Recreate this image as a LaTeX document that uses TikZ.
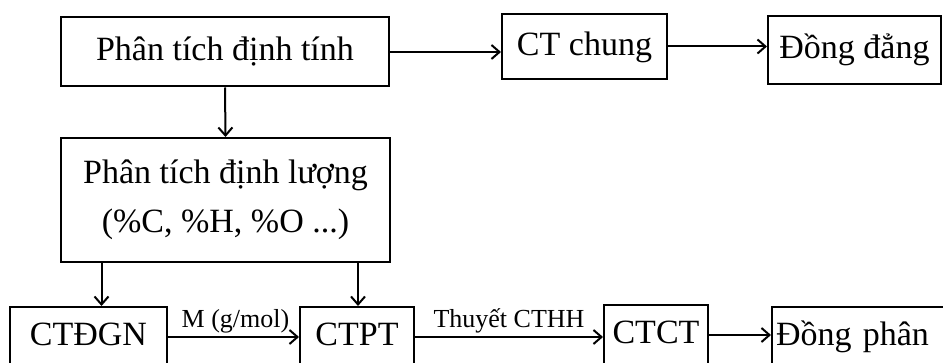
\documentclass[tikz,border=0pt]{standalone}
\usepackage{fontspec}
\setmainfont{Liberation Serif}
\usetikzlibrary{arrows.meta}
\begin{document}
\begin{tikzpicture}[x=1pt,y=-1pt,
  box/.style={draw, line width=2pt, inner sep=0pt, font=\fontsize{34}{41}\selectfont},
  sbox/.style={box, text height=24pt, text depth=6pt},
  conn/.style={line width=2pt, -{Straight Barb[length=8pt,width=14pt,line width=2pt]}},
  lbl/.style={font=\fontsize{26}{30}\selectfont, inner sep=1pt}]
\useasboundingbox (0,0) rectangle (943,363);
\clip (0,0) rectangle (943,363);
\node[sbox, minimum width=328pt, minimum height=69pt] (b1) at (225,52) {Phân tích định tính};
\node[sbox, minimum width=165pt, minimum height=65pt] (ct) at (584.5,46.5) {CT chung};
\node[sbox, minimum width=173pt, minimum height=68pt] (dd) at (854.5,50) {Đồng đẳng};
\node[box, minimum width=329pt, minimum height=124pt, align=center] (b2) at (225.5,200) {Phân tích định lượng\\[8pt](\%C, \%H, \%O ...)};
\node[sbox, minimum width=157pt, minimum height=60pt] (dgn) at (88.5,337) {CTĐGN};
\node[sbox, minimum width=114pt, minimum height=60pt] (pt) at (357,337) {CTPT};
\node[sbox, minimum width=104pt, minimum height=60pt] (cct) at (656,335) {CTCT};
\node[sbox, minimum width=180pt, minimum height=60pt, text width=172pt, align=left] (dp) at (862,337) {Đồng phân};
\coordinate (s1) at ([xshift=13pt]b2.south -| dgn.north);
\coordinate (s2) at ([xshift=1pt]b2.south -| pt.north);
\draw[conn] (b1.east) -- (b1.east -| ct.west);
\draw[conn] (ct.east) -- (ct.east -| dd.west);
\draw[conn] (b1.south) -- (b2.north);
\draw[conn] (s1) -- (s1 |- dgn.north);
\draw[conn] (s2) -- (s2 |- pt.north);
\draw[conn] (dgn.east) -- node[lbl, above, xshift=2pt, yshift=2pt] {M (g/mol)} (dgn.east -| pt.west);
\draw[conn] (pt.east) -- node[lbl, above, yshift=2pt] {Thuyết CTHH} (pt.east -| cct.west);
\draw[conn] (cct.east) -- (cct.east -| dp.west);
\end{tikzpicture}
\end{document}
